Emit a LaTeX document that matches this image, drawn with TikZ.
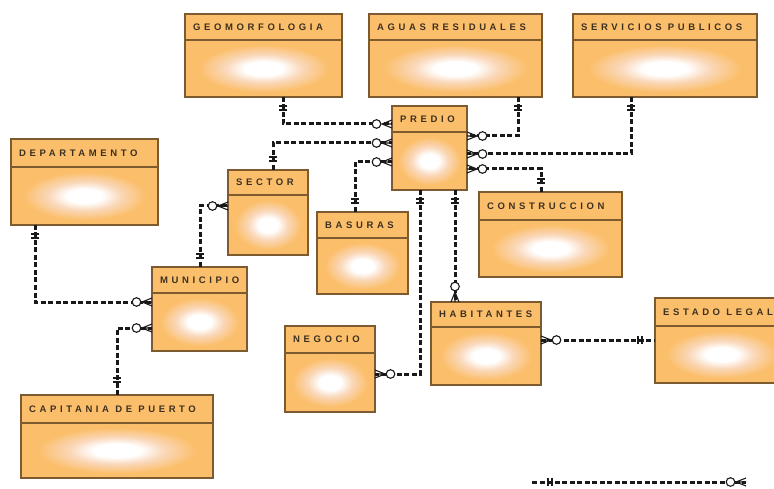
\documentclass[tikz,border=0pt]{standalone}
\usepackage{fontspec}
\setmainfont{Liberation Sans}
\newfontfamily\hdrfont{Liberation Sans}[LetterSpace=38]
\usetikzlibrary{calc}
\definecolor{boxfill}{RGB}{251,191,108}
\definecolor{hdrfill}{RGB}{251,201,124}
\definecolor{glowmid}{RGB}{250,216,186}
\definecolor{edgecol}{RGB}{125,90,48}
\definecolor{txtcol}{RGB}{60,48,32}
\definecolor{linecol}{RGB}{25,25,25}
\pgfdeclareradialshading{glow}{\pgfpoint{0bp}{0bp}}{color(0bp)=(white); color(6.5bp)=(white); color(13bp)=(glowmid); color(22bp)=(boxfill); color(50bp)=(boxfill)}
\tikzset{
  entbox/.style={rectangle, fill=boxfill, inner sep=0pt, outer sep=0pt},
  edgeline/.style={draw=edgecol, line width=1.4pt},
  lbl/.style={text=txtcol, font=\hdrfont\bfseries\fontsize{9.5}{10}\selectfont, inner sep=0pt, anchor=west},
  conn/.style={draw=linecol, line width=3pt, dash pattern=on 5pt off 2.5pt},
  sym/.style={draw=linecol, line width=1.1pt},
}
% name, label, x1, y1, x2, y2, header bottom
\newcommand{\entity}[7]{%
  \node[entbox, anchor=north west, minimum width={#5-#3}, minimum height={#6-#4}] (#1) at (#3,#4) {};
  \shade[shading=glow] ({(#3+#5)/2},{(#6+#7)/2}) ellipse [x radius={0.47*(#5-#3)*1pt}, y radius={0.47*(#6-#7)*1pt}];
  \fill[hdrfill] (#1.north west) rectangle (#3,#7);
  \draw[edgeline] (#3,#7) -- (#5,#7);
  \draw[edgeline] (#1.south west) rectangle (#1.north east);
  \node[lbl] (#1-t) at ({#3+8},{(#4+#7)/2}) {#2};
}
\newcommand{\many}[2]{%
  \begin{scope}[shift={(#1)}, rotate=#2]
    \draw[sym] (0,4) -- (10,0) -- (0,-4) (0,0) -- (10,0);
    \draw[sym, fill=white] (15.5,0) circle[radius=4.3pt];
  \end{scope}}
\newcommand{\one}[3][9]{%
  \begin{scope}[shift={(#2)}, rotate=#3]
    \draw[sym] (#1,-4) -- (#1,4) ({#1+4},-4) -- ({#1+4},4);
  \end{scope}}
\begin{document}
\begin{tikzpicture}[x=1pt, y=-1pt]
\useasboundingbox (0,0) rectangle (774,489);
\clip (0,0) rectangle (774,489);
\fill[white] (0,0) rectangle (774,489);

\entity{geo}{GEOMORFOLOGIA}{185}{14}{342}{97}{40}
\entity{aguas}{AGUAS RESIDUALES}{369}{14}{542}{97}{40}
\entity{serv}{SERVICIOS PUBLICOS}{573}{14}{757}{97}{40}
\entity{predio}{PREDIO}{392}{106}{467}{190}{132}
\entity{dept}{DEPARTAMENTO}{11}{139}{158}{225}{167}
\entity{sector}{SECTOR}{228}{170}{308}{255}{195}
\entity{munic}{MUNICIPIO}{152}{267}{247}{351}{293}
\entity{cap}{CAPITANIA DE PUERTO}{21}{395}{213}{478}{423}
\entity{basuras}{BASURAS}{317}{212}{408}{294}{238}
\entity{negocio}{NEGOCIO}{285}{326}{375}{412}{353}
\entity{habit}{HABITANTES}{431}{302}{541}{385}{327}
\entity{estado}{ESTADO LEGAL}{655}{298}{788}{383}{326}
\entity{const}{CONSTRUCCION}{479}{192}{622}{277}{220}

\coordinate (k1) at (283,124);
\coordinate (k2) at (518,136);
\coordinate (k3) at (631,154);
\coordinate (k4) at (541,169);
\coordinate (k5) at (273,143);
\coordinate (k6) at (355,162);
\coordinate (k7) at (420,374);
\coordinate (k8) at (455,0);
\coordinate (k9) at (0,340);
\coordinate (k10) at (200,206);
\coordinate (k11) at (35,302);
\coordinate (k12) at (117,328);
\coordinate (legA) at (532,482);
\coordinate (legB) at (746,482);

\draw[conn] (geo.south -| k1) |- (predio.west |- k1);
\draw[conn] (aguas.south -| k2) |- (predio.east |- k2);
\draw[conn] (serv.south -| k3) |- (predio.east |- k3);
\draw[conn] (const.north -| k4) |- (predio.east |- k4);
\draw[conn] (sector.north -| k5) |- (predio.west |- k5);
\draw[conn] (basuras.north -| k6) |- (predio.west |- k6);
\draw[conn] (predio.south -| k7) |- (negocio.east |- k7);
\draw[conn] (predio.south -| k8) -- (habit.north -| k8);
\draw[conn] (habit.east |- k9) -- (estado.west |- k9);
\draw[conn] (munic.north -| k10) |- (sector.west |- k10);
\draw[conn] (dept.south -| k11) |- (munic.west |- k11);
\draw[conn] (cap.north -| k12) |- (munic.west |- k12);
\draw[conn] (legA) -- (legB);

\many{predio.west |- k1}{180}
\many{predio.east |- k2}{0}
\many{predio.east |- k3}{0}
\many{predio.east |- k4}{0}
\many{predio.west |- k5}{180}
\many{predio.west |- k6}{180}
\many{negocio.east |- k7}{0}
\many{habit.north -| k8}{90}
\many{habit.east |- k9}{0}
\many{sector.west |- k10}{180}
\many{munic.west |- k11}{180}
\many{munic.west |- k12}{180}
\many{legB}{180}

\one{geo.south -| k1}{270}
\one{aguas.south -| k2}{270}
\one{serv.south -| k3}{270}
\one{const.north -| k4}{90}
\one{sector.north -| k5}{90}
\one{basuras.north -| k6}{90}
\one{predio.south -| k7}{270}
\one{predio.south -| k8}{270}
\one[13]{estado.west |- k9}{180}
\one{munic.north -| k10}{90}
\one{dept.south -| k11}{270}
\one[13]{cap.north -| k12}{90}
\one[16]{legA}{0}
\end{tikzpicture}
\end{document}
